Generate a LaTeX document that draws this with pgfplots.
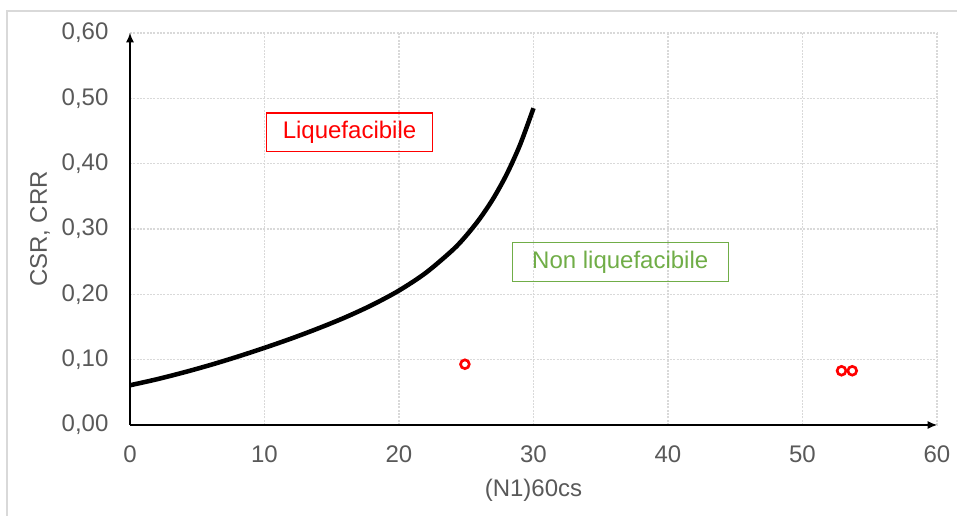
\documentclass[border=0pt]{standalone}
\usepackage{fontspec}
\setmainfont{Liberation Sans}
\usepackage{pgfplots}
\pgfplotsset{compat=1.18}
\usetikzlibrary{arrows.meta}
\definecolor{lblgray}{HTML}{595959}
\definecolor{gridgray}{HTML}{D9D9D9}
\definecolor{okgreen}{HTML}{70AD47}

\begin{document}
\begin{tikzpicture}
\fontsize{18}{21.6}\selectfont
\path[use as bounding box] (0,0) rectangle (717.75pt,387pt);
% chart area border (only top and left are visible in the crop)
\draw[gridgray, line width=0.8pt] (5.25pt,0) -- (5.25pt,378.75pt) -- (717.75pt,378.75pt);

\begin{axis}[
    at={(97.5pt,68.25pt)}, anchor=south west,
    scale only axis,
    width=605.25pt, height=294pt,
    xmin=0, xmax=60, ymin=0, ymax=0.6,
    enlargelimits=false,
    clip=false,
    axis lines=left,
    axis line style={black, line width=0.8pt, -{Latex[length=7pt,width=6pt]}},
    xtick={0,10,...,60},
    ytick={0,0.1,...,0.6},
    major tick length=0pt,
    grid=major,
    major grid style={gridgray, line width=0.8pt, dash pattern=on 1.5pt off 1pt},
    tick label style={font=\fontsize{18}{21.6}\selectfont, text=lblgray},
    xticklabel style={yshift=-9pt},
    yticklabel style={xshift=-10pt},
    /pgf/number format/assume math mode=true,
    yticklabel={\pgfmathprintnumber[fixed, fixed zerofill, precision=2, use comma]{\tick}},
    xticklabel={\pgfmathprintnumber[fixed, precision=0]{\tick}},
    xlabel={(N1)60cs},
    ylabel={CSR, CRR},
    label style={font=\fontsize{18}{21.6}\selectfont, text=lblgray},
    xlabel style={at={(axis description cs:0.5,-0.166)}, anchor=center},
    ylabel style={at={(axis description cs:-0.1115,0.5)}, anchor=center, rotate=0},
]

% CRR curve
\addplot[black, line width=3.4pt, smooth] coordinates {
    (0,0.0608) (2,0.0700) (4,0.0805) (6,0.0920) (8,0.1046)
    (10,0.1181) (12,0.1324) (14,0.1479) (16,0.1647) (18,0.1837)
    (20,0.2058) (22,0.2330) (24,0.2680) (25,0.2899) (26,0.3157)
    (27,0.3464) (28,0.3835) (29,0.4289) (30,0.4849)
};

% CSR points
\addplot[only marks, mark=o, mark size=3.3pt, red, line width=2pt] coordinates {
    (24.9,0.093) (52.9,0.083) (53.7,0.083)
};

\node[draw=red, line width=0.8pt, text=red, minimum width=125pt, minimum height=29pt, inner sep=0pt]
    at (axis cs:16.32,0.448) {Liquefacibile};
\node[draw=okgreen, line width=0.8pt, text=okgreen, minimum width=162pt, minimum height=29.5pt, inner sep=0pt]
    at (axis cs:36.45,0.2496) {Non liquefacibile};

\end{axis}
\end{tikzpicture}
\end{document}
